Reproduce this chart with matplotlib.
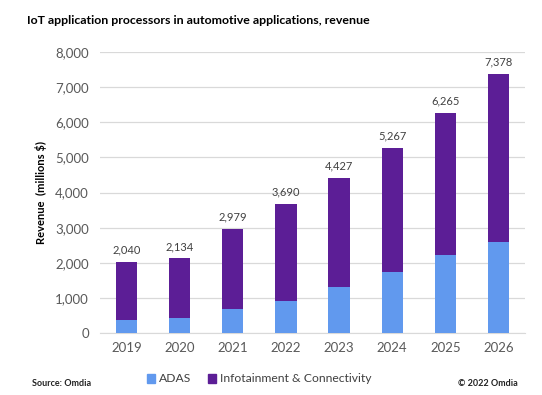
import matplotlib
matplotlib.use("Agg")
import matplotlib.pyplot as plt
import numpy as np
from matplotlib.patches import Patch

years = ["2019", "2020", "2021", "2022", "2023", "2024", "2025", "2026"]
totals = [2040, 2134, 2979, 3690, 4427, 5267, 6265, 7378]
adas = [380, 440, 695, 925, 1305, 1730, 2235, 2610]
infotainment = [t - a for t, a in zip(totals, adas)]
yticks = [0, 1000, 2000, 3000, 4000, 5000, 6000, 7000, 8000]

plt.rcParams['font.family'] = ['Lato', 'DejaVu Sans']

fig = plt.figure(figsize=(5.42, 3.95), dpi=100)
ax = fig.add_axes([100/542, 1-333.3/395, 425/542, (333.3-52)/395])

blue = "#6199EE"
purple = "#5C1E96"
x = np.arange(len(years))
ax.bar(x, adas, width=0.4, color=blue, zorder=3)
ax.bar(x, infotainment, bottom=adas, width=0.4, color=purple, zorder=3)

for xi, t in zip(x, totals):
    ax.text(xi, t + 180, f"{t:,}", ha="center", va="bottom", fontsize=8, color="#404040")

ax.set_xlim(-0.5, len(years) - 0.5)
ax.set_ylim(0, 8000)
ax.set_yticks(yticks)
ax.set_yticklabels([f"{v:,}" for v in yticks], fontsize=9.5, color="#595959")
ax.set_xticks(x)
ax.set_xticklabels(years, fontsize=9.5, color="#595959")
ax.tick_params(axis="both", length=0, pad=8)
ax.tick_params(axis="x", pad=6)
ax.grid(axis="y", color="#D9D9D9", linewidth=0.9, zorder=0)
for s in ["top", "right", "left"]:
    ax.spines[s].set_visible(False)
ax.spines["bottom"].set_color("#D9D9D9")

ax.set_ylabel("Revenue  (millions $)", fontsize=8, fontweight="bold", color="black", labelpad=6)

fig.text(27/542, 1-21/395, "IoT application processors in automotive applications, revenue",
         fontsize=8.9, fontweight="bold", ha="left", va="center")
fig.text(32/542, 1-384/395, "Source: Omdia", fontsize=6.5, fontweight="bold", ha="left", va="center", color="#222222")
fig.text(518/542, 1-384/395, "© 2022 Omdia", fontsize=6.5, fontweight="bold", ha="right", va="center", color="#222222")

handles = [Patch(color=blue, label="ADAS"), Patch(color=purple, label="Infotainment & Connectivity")]
fig.legend(handles=handles, loc="center", bbox_to_anchor=(259/542, 1-379/395), ncol=2, frameon=False,
           fontsize=8.7, handlelength=0.7, handleheight=0.7, handletextpad=0.3, columnspacing=1.4,
           labelcolor="#404040")

fig.savefig("out.png", dpi=100)
